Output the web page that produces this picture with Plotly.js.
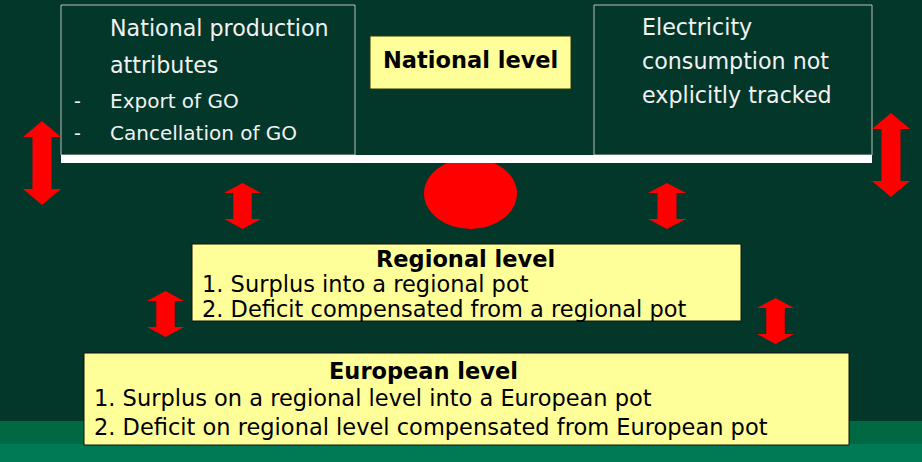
<!DOCTYPE html>
<html><head><meta charset="utf-8">
<script src="https://cdn.plot.ly/plotly-3.0.1.min.js"></script>
<style>html,body{margin:0;padding:0;background:#03372a;}#c{width:922px;height:462px;}</style>
</head><body><div id="c"></div>
<script>
// ---- content ----
const leftHeading = ["National production", "attributes"];
const leftBullets = ["Export of GO", "Cancellation of GO"];
const rightLines = ["Electricity", "consumption not", "explicitly tracked"];
const levelTitles = ["National level", "Regional level", "European level"];
const regionalItems = ["1. Surplus into a regional pot", "2. Deficit compensated from a regional pot"];
const europeanItems = ["1. Surplus on a regional level into a European pot", "2. Deficit on regional level compensated from European pot"];

// ---- layout geometry (pixel space of the 922x462 canvas) ----
const FONT = "DejaVu Sans, sans-serif";
const BG = "#03372a";
const YEL = "#ffff99";
const RED = "#ff0000";

const shapes = [];
const ann = [];
function rect(x0,y0,x1,y1,fill,line,lw){shapes.push({type:"rect",xref:"x",yref:"y",x0,y0,x1,y1,fillcolor:fill,line:{color:line||fill,width:lw===undefined?1:lw}});}
function dblArrow(x0,y0,x1,y1,h){
  const cx=(x0+x1)/2, s=(x1-x0)*0.25;
  const p=[[cx,y0],[x1,y0+h],[cx+s,y0+h],[cx+s,y1-h],[x1,y1-h],[cx,y1],[x0,y1-h],[cx-s,y1-h],[cx-s,y0+h],[x0,y0+h]];
  shapes.push({type:"path",xref:"x",yref:"y",path:"M"+p.map(q=>q[0]+","+q[1]).join(" L")+" Z",fillcolor:RED,line:{width:0}});
}
function txt(x,y,t,opt){ann.push(Object.assign({x,y,xref:"x",yref:"y",text:t,showarrow:false,xanchor:"left",yanchor:"middle",font:{family:FONT,size:22.2,color:"#f2f2f2"}},opt||{}));}
const blk = s => ({family:FONT,size:s,color:"#000"});

// bottom bands
rect(0,421,922,444,"#006944",null,0);
rect(0,444,922,462,"#007a55",null,0);

// national boxes
rect(61,5,355,155,BG,"#b8c0bc",1);
rect(594,5,872,155,BG,"#b8c0bc",1);
// red ellipse (behind the bar)
shapes.push({type:"circle",xref:"x",yref:"y",x0:424,y0:158,x1:517,y1:229,fillcolor:RED,line:{width:0}});
// white bar
rect(61,155,872,163,"#ffffff",null,0);

// national level label
rect(370,36,571,89,YEL,"#333300",1);
txt(470.5,60,"<b>"+levelTitles[0]+"</b>",{xanchor:"center",font:blk(22.5)});

// left box text
txt(108,28,leftHeading[0]);
txt(108,65,leftHeading[1]);
leftBullets.forEach((b,i)=>{txt(72,101+i*32,"-",{font:{family:FONT,size:19,color:"#f2f2f2"}});txt(108,101+i*32,b,{font:{family:FONT,size:20,color:"#f2f2f2"}});});
// right box text
rightLines.forEach((t,i)=>txt(640,27+i*34,t));

// regional box
rect(192,244,741,321,YEL,"#111",1);
txt(465,259,"<b>"+levelTitles[1]+"</b>",{xanchor:"center",font:blk(22.5)});
regionalItems.forEach((t,i)=>txt(200,284+i*25,t,{font:blk(22.5)}));

// european box
rect(84,353,849,445,YEL,"#111",1);
txt(423,371,"<b>"+levelTitles[2]+"</b>",{xanchor:"center",font:blk(22.5)});
europeanItems.forEach((t,i)=>txt(92,398+i*29,t,{font:blk(22.5)}));

// arrows
dblArrow(23,121,61,205,16);
dblArrow(872,113,910,197,16);
dblArrow(224,183,261,229,10);
dblArrow(648,183,686,229,10);
dblArrow(147,291,184,337,10);
dblArrow(757,298,794,344,10);

Plotly.newPlot("c",[{x:[0],y:[0],mode:"markers",marker:{opacity:0},hoverinfo:"skip",showlegend:false}],{
  width:922,height:462,margin:{l:0,r:0,t:0,b:0},
  paper_bgcolor:BG,plot_bgcolor:BG,
  xaxis:{range:[0,922],visible:false,fixedrange:true},
  yaxis:{range:[462,0],visible:false,fixedrange:true},
  shapes:shapes,annotations:ann,showlegend:false
},{staticPlot:true});
</script></body></html>
